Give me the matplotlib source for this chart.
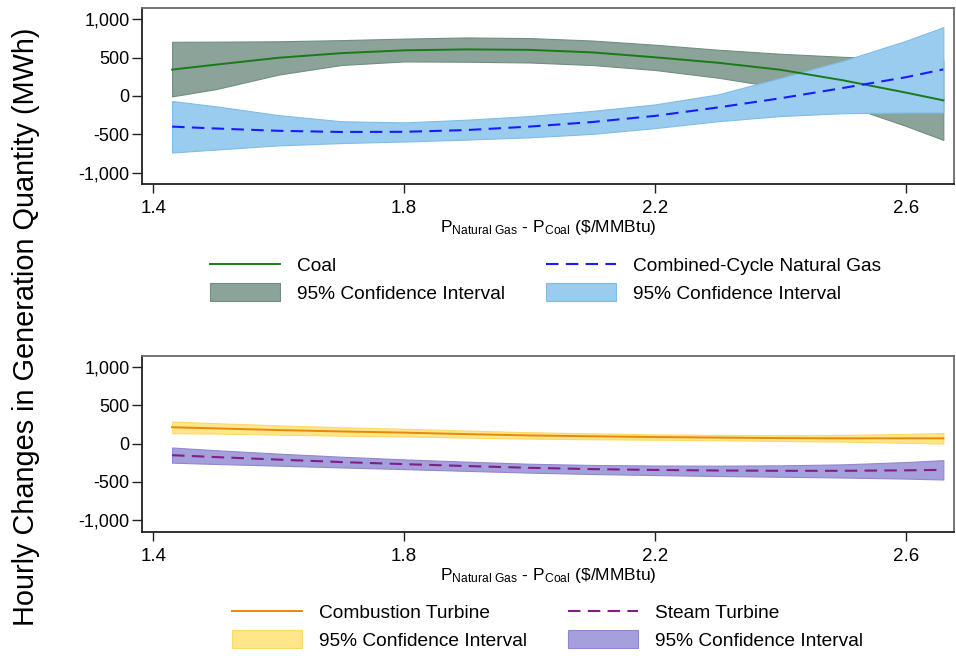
import matplotlib
matplotlib.use("Agg")
import matplotlib.pyplot as plt

plt.rcParams['font.family'] = ['Liberation Sans', 'DejaVu Sans']
plt.rcParams['mathtext.fontset'] = 'custom'
plt.rcParams['mathtext.rm'] = 'Liberation Sans'
plt.rcParams['mathtext.it'] = 'Liberation Sans'

# price spread grid ($/MMBtu)
spread = [1.43, 1.5, 1.6, 1.7, 1.8, 1.9, 2.0, 2.1, 2.2, 2.3, 2.4, 2.5, 2.6, 2.66]

# coal
coal = [345, 410, 500, 560, 597, 609, 603, 570, 506, 435, 343, 205, 45, -57]
coal_hi = [708, 710, 715, 730, 750, 765, 757, 725, 670, 605, 552, 512, 480, 465]
coal_lo = [-5, 90, 280, 405, 452, 448, 438, 405, 340, 240, 110, -110, -390, -574]

# combined-cycle natural gas
ccgt = [-400, -425, -455, -470, -468, -445, -400, -340, -260, -150, -30, 105, 245, 348]
ccgt_hi = [-65, -135, -250, -330, -345, -310, -262, -195, -110, 20, 235, 460, 720, 900]
ccgt_lo = [-738, -700, -645, -615, -595, -570, -540, -495, -420, -330, -262, -225, -215, -215]

# combustion turbine
ct = [215, 200, 178, 160, 145, 125, 108, 97, 87, 80, 73, 70, 70, 70]
ct_hi = [290, 268, 240, 215, 195, 172, 150, 135, 122, 115, 112, 115, 128, 140]
ct_lo = [138, 132, 118, 105, 95, 80, 66, 58, 52, 45, 36, 27, 12, 2]

# steam turbine
st = [-150, -175, -208, -240, -267, -292, -315, -332, -343, -350, -354, -354, -348, -342]
st_hi = [-50, -85, -130, -170, -205, -235, -262, -278, -285, -287, -283, -270, -240, -215]
st_lo = [-248, -265, -287, -310, -332, -355, -378, -396, -410, -422, -432, -442, -456, -468]

xticks = [1.4, 1.8, 2.2, 2.6]
yticks = [-1000, -500, 0, 500, 1000]
ytick_labels = ['-1,000', '-500', '0', '500', '1,000']
xlabel = r'P$_{\mathrm{Natural\ Gas}}$ - P$_{\mathrm{Coal}}$ (\$/MMBtu)'

W, H = 956, 656
fig = plt.figure(figsize=(W / 100, H / 100), dpi=100)

ax1 = fig.add_axes([142 / W, 1 - 184 / H, 812 / W, 176 / H])
ax2 = fig.add_axes([142 / W, 1 - 531.7 / H, 812 / W, 176 / H])


def style_axes(ax):
    ax.set_xlim(1.382, 2.677)
    ax.set_ylim(-1150, 1150)
    ax.set_xticks(xticks)
    ax.set_xticklabels([f'{t:.1f}' for t in xticks])
    ax.set_yticks(yticks)
    ax.set_yticklabels(ytick_labels)
    ax.tick_params(axis='y', length=7, width=1, pad=2, labelsize=13, color='#222')
    ax.tick_params(axis='x', length=6.5, width=1, pad=5, labelsize=13.5, color='#222')
    for s in ['left', 'bottom']:
        ax.spines[s].set_color('#222')
        ax.spines[s].set_linewidth(1.3)
    for s in ['top', 'right']:
        ax.spines[s].set_color('#6a6a6a')
        ax.spines[s].set_linewidth(1.3)
    ax.set_xlabel(xlabel, fontsize=12.5, labelpad=1)


# top panel: coal vs combined-cycle gas
f1 = ax1.fill_between(spread, coal_lo, coal_hi, facecolor='#8ba398',
                      edgecolor='#708f80', linewidth=0.8, zorder=1)
f2 = ax1.fill_between(spread, ccgt_lo, ccgt_hi, facecolor='#99ccee',
                      edgecolor='#80bde6', linewidth=0.8, zorder=2)
l1, = ax1.plot(spread, coal, color='#1a7a1a', lw=1.4, zorder=3)
l2, = ax1.plot(spread, ccgt, color='#1a1aff', lw=1.5, dashes=(6, 3.5), zorder=3)
style_axes(ax1)

# bottom panel: combustion vs steam turbines
f3 = ax2.fill_between(spread, ct_lo, ct_hi, facecolor='#ffe68a',
                      edgecolor='#ffd966', linewidth=0.8, zorder=1)
f4 = ax2.fill_between(spread, st_lo, st_hi, facecolor='#a59fdc',
                      edgecolor='#8f88d0', linewidth=0.8, zorder=2)
l3, = ax2.plot(spread, ct, color='#e8870e', lw=1.4, zorder=3)
l4, = ax2.plot(spread, st, color='#7f1f87', lw=1.5, dashes=(6, 3.5), zorder=3)
style_axes(ax2)

leg_kw = dict(ncol=2, frameon=False, fontsize=13.8, handlelength=3.65,
              handleheight=1.05, handletextpad=0.88, columnspacing=2.15,
              labelspacing=0.42, borderpad=0, borderaxespad=0,
              loc='upper left', bbox_transform=fig.transFigure)

fig.legend([l1, f1, l2, f2],
           ['Coal', '95% Confidence Interval',
            'Combined-Cycle Natural Gas', '95% Confidence Interval'],
           bbox_to_anchor=(210 / W, 1 - 256 / H), **leg_kw)
fig.legend([l3, f3, l4, f4],
           ['Combustion Turbine', '95% Confidence Interval',
            'Steam Turbine', '95% Confidence Interval'],
           bbox_to_anchor=(232 / W, 1 - 603 / H), **leg_kw)

fig.text(26 / W, 1 - 327 / H, 'Hourly Changes in Generation Quantity (MWh)',
         rotation=90, ha='center', va='center', fontsize=20.8)

fig.savefig('out.png', dpi=100)
